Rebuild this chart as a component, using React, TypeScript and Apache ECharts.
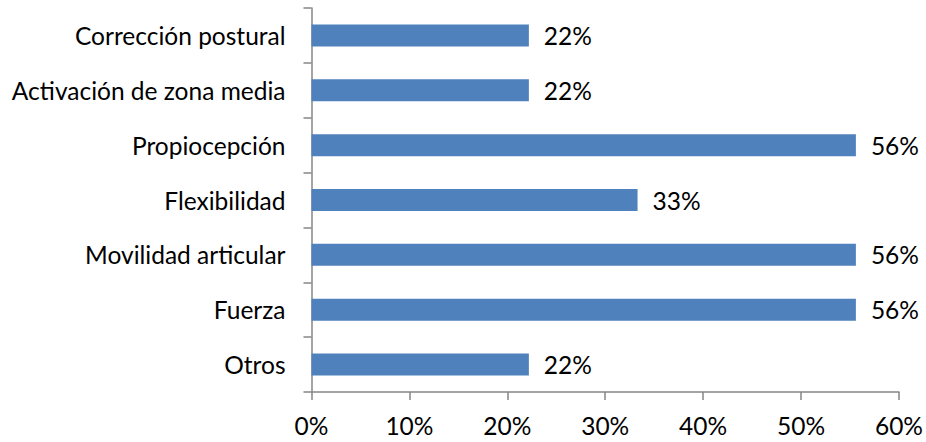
import React, { useEffect, useRef } from "react";
import * as echarts from "echarts";

const categories = [
  "Otros",
  "Fuerza",
  "Movilidad articular",
  "Flexibilidad",
  "Propiocepción",
  "Activación de zona media",
  "Corrección postural",
];
const values = [22.2, 55.6, 55.6, 33.3, 55.6, 22.2, 22.2];
const xTicks = [0, 10, 20, 30, 40, 50, 60];

const FONT = "Lato";
const AXIS_COLOR = "#868686";

export default function App() {
  const ref = useRef<HTMLDivElement>(null);
  useEffect(() => {
    document.body.style.margin = "0";
    const chart = echarts.init(ref.current!, null, { renderer: "svg" });
    chart.setOption({
      animation: false,
      grid: { left: 311.5, right: 25, top: 8, bottom: 50, containLabel: false },
      xAxis: {
        type: "value",
        min: xTicks[0],
        max: xTicks[xTicks.length - 1],
        interval: 10,
        splitLine: { show: false },
        axisLine: { show: true, lineStyle: { color: AXIS_COLOR, width: 1.5 } },
        axisTick: { show: true, length: 8, lineStyle: { color: AXIS_COLOR, width: 1.5 } },
        axisLabel: {
          formatter: "{value}%",
          fontFamily: FONT,
          fontSize: 24.5,
          color: "#000",
          margin: 21,
        },
      },
      yAxis: {
        type: "category",
        data: categories,
        axisLine: { show: true, lineStyle: { color: AXIS_COLOR, width: 1.5 } },
        axisTick: { show: true, length: 8, lineStyle: { color: AXIS_COLOR, width: 1.5 } },
        axisLabel: {
          fontFamily: FONT,
          fontSize: 24.5,
          color: "#000",
          margin: 26,
        },
      },
      series: [
        {
          type: "bar",
          data: values,
          barWidth: 22,
          itemStyle: { color: "#4f81bd" },
          label: {
            show: true,
            position: "right",
            distance: 15,
            formatter: (p: any) => Math.round(p.value) + "%",
            fontFamily: FONT,
            fontSize: 24.5,
            color: "#000",
          },
        },
      ],
    });
    return () => chart.dispose();
  }, []);
  return <div ref={ref} style={{ width: 926, height: 442 }} />;
}
